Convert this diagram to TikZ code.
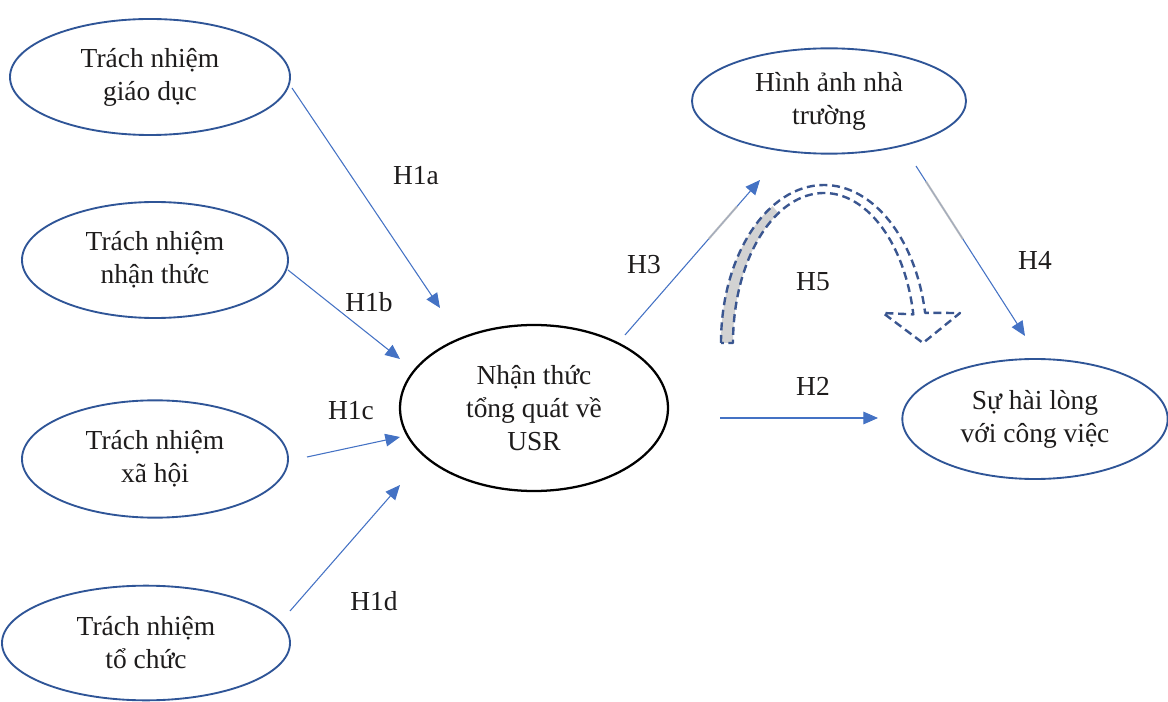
\documentclass[tikz,border=0pt]{standalone}
\usepackage{fontspec}
\setmainfont{Liberation Serif}
\usetikzlibrary{shapes.geometric,arrows.meta,calc}
\definecolor{arrowblue}{HTML}{4472C4}
\definecolor{rimblue}{HTML}{2F5597}
\definecolor{dashblue}{HTML}{3A5690}
\definecolor{inkgray}{HTML}{1E1C1C}

\begin{document}
\begin{tikzpicture}[x=0.75pt,y=-0.75pt,
  construct/.style={ellipse, draw=rimblue, line width=1.4pt, text=inkgray,
    align=center, inner sep=0pt, font=\fontsize{20.6}{24.75}\selectfont},
  core/.style={construct, draw=black, line width=1.7pt},
  link/.style={draw=arrowblue, line width=0.8pt,
    -{Triangle[length=11pt,width=9.5pt]}},
  hyp/.style={text=inkgray, font=\fontsize{20.6}{24}\selectfont, inner sep=0pt},
  faded/.style={draw=gray!55, line width=1.6pt, opacity=0.8},
]
\useasboundingbox (0,0) rectangle (1168,702);

% constructs
\node[construct, minimum width=210pt, minimum height=87pt] (edu) at (150,77) {Trách nhiệm\\giáo dục};
\node[construct, minimum width=199.5pt, minimum height=87pt] (cog) at (155,260) {Trách nhiệm\\nhận thức};
\node[construct, minimum width=199.5pt, minimum height=88pt] (soc) at (155,459) {Trách nhiệm\\xã hội};
\node[construct, minimum width=216pt, minimum height=86pt] (org) at (146,643) {Trách nhiệm\\tổ chức};
\node[core, minimum width=201pt, minimum height=124.5pt] (usr) at (534,408) {Nhận thức\\tổng quát về\\USR};
\node[construct, minimum width=205.5pt, minimum height=79pt] (img) at (829,101) {Hình ảnh nhà\\trường};
\node[construct, minimum width=199pt, minimum height=90pt] (sat) at (1035,419) {Sự hài lòng\\với công việc};

% connector end points
\coordinate (a0) at (292,88);   \coordinate (a1) at (440,308);
\coordinate (b0) at (288,270);  \coordinate (b1) at (400,359);
\coordinate (c0) at (307,457);  \coordinate (c1) at (400,437);
\coordinate (d0) at (290,611);  \coordinate (d1) at (400,485);
\coordinate (e0) at (625,335);  \coordinate (e1) at (760,180);
\coordinate (f0) at (720,418);  \coordinate (f1) at (878,418);
\coordinate (g0) at (916,166);  \coordinate (g1) at (1025,336);

% hypotheses
\draw[link] (a0) -- (a1);
\draw[link] (b0) -- (b1);
\draw[link] (c0) -- (c1);
\draw[link] (d0) -- (d1);
\draw[link] (e0) -- (e1);
\draw[link] (f0) -- (f1);
\draw[link] (g0) -- (g1);

% shaded pieces over H3 and H4
\draw[faded] ($(e0)!0.62!(e1)$) -- ($(e0)!0.83!(e1)$);
\draw[faded] ($(g0)!0.09!(g1)$) -- ($(g0)!0.43!(g1)$);

\node[hyp] (la) at (416,176) {H1a};
\node[hyp] (lb) at (369,302) {H1b};
\node[hyp] (lc) at (351,411) {H1c};
\node[hyp] (ld) at (374,601) {H1d};
\node[hyp] (l3) at (644,265) {H3};
\node[hyp] (l2) at (813,386) {H2};
\node[hyp] (l4) at (1035,260) {H4};
\node[hyp] (l5) at (813,282) {H5};

% curved mediation arrow (H5)
\fill[gray!35]
  (721,343) arc[start angle=180, end angle=240, x radius=103, y radius=158]
  -- ($(824,343)+(240:91 and 150)$)
  arc[start angle=240, end angle=180, x radius=91, y radius=150] -- cycle;
\draw[dashblue, line width=1.8pt, dash pattern=on 6pt off 3.5pt, line join=round]
  (721,343) arc[start angle=180, end angle=349, x radius=103, y radius=158]
  -- (960,313) -- (923,343) -- (883,313)
  -- ($(824,343)+(349:91 and 150)$)
  arc[start angle=349, end angle=180, x radius=91, y radius=150] -- cycle;
\end{tikzpicture}
\end{document}
